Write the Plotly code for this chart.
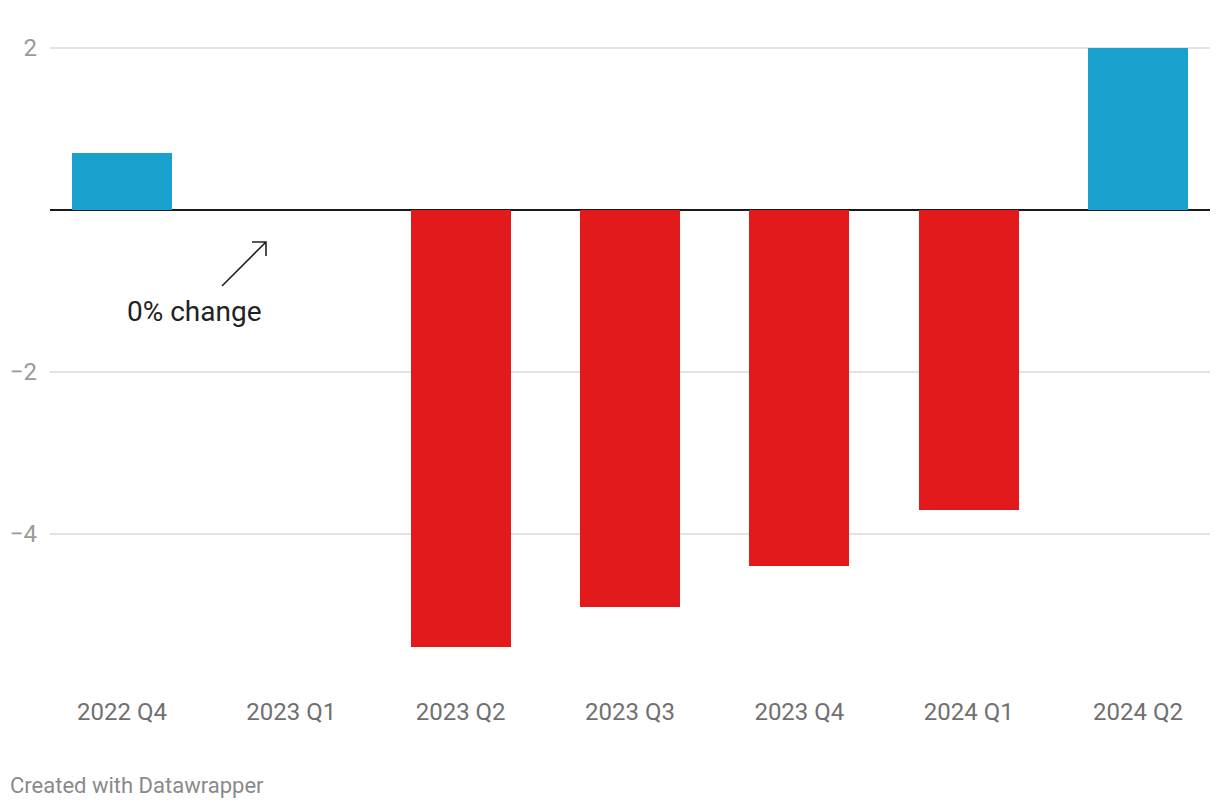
import plotly.graph_objects as go

categories = ["2022 Q4", "2023 Q1", "2023 Q2", "2023 Q3", "2023 Q4", "2024 Q1", "2024 Q2"]
values = [0.7, 0.0, -5.4, -4.9, -4.4, -3.7, 2.0]
ytick_vals = [2, -2, -4]
ytick_text = ["2", "\u22122", "\u22124"]

BLUE = "#18a1cd"
RED = "#e31a1c"
colors = [BLUE if v >= 0 else RED for v in values]

PLOT_TOP = 28
PLOT_BOT = 695
PLOT_L = 50
PLOT_R = 1210

fig = go.Figure()
fig.add_trace(go.Bar(
    x=list(range(len(categories))), y=values,
    marker=dict(color=colors, line=dict(width=0)),
    width=0.59, hoverinfo="skip",
))

# px -> data helpers for annotation placement
def px_x(p):
    return (p - 122) / 169.33

def px_y(p):
    return (210 - p) / 81.0

hx, hy = 266, 242
tx, ty = 222, 286
path = (f"M {px_x(tx)} {px_y(ty)} L {px_x(hx)} {px_y(hy)} "
        f"M {px_x(hx-14)} {px_y(hy)} L {px_x(hx)} {px_y(hy)} L {px_x(hx)} {px_y(hy+14)}")
fig.add_shape(type="path", path=path, xref="x", yref="y",
              line=dict(color="#222222", width=1.6))

fig.add_annotation(x=px_x(195), y=px_y(311), xref="x", yref="y",
                   text="0% change", showarrow=False,
                   font=dict(family="Roboto", size=28, color="#222222"))

fig.update_layout(
    width=1220, height=808,
    margin=dict(l=PLOT_L, r=1220 - PLOT_R, t=PLOT_TOP, b=808 - PLOT_BOT),
    plot_bgcolor="white", paper_bgcolor="white",
    showlegend=False,
    font=dict(family="Roboto"),
    bargap=0,
)
fig.update_xaxes(
    range=[-0.425, 6.425],
    tickvals=list(range(len(categories))), ticktext=categories,
    showgrid=False, zeroline=False, showline=False, ticks="",
    tickfont=dict(family="Roboto", size=24, color="#707070"),
)
y_top = 2 + (48 - PLOT_TOP) / 81.0
y_bot = -(PLOT_BOT - 210) / 81.0
fig.update_yaxes(
    range=[y_bot, y_top],
    tickvals=ytick_vals, ticktext=ytick_text,
    showgrid=True, gridcolor="#e3e3e3", gridwidth=1.5,
    zeroline=True, zerolinecolor="#1a1a1a", zerolinewidth=2,
    showline=False, ticks="", ticklabelstandoff=12,
    tickfont=dict(family="Roboto", size=24, color="#9a9a9a"),
)

fig.add_annotation(
    x=(8 - PLOT_L) / (PLOT_R - PLOT_L),
    y=(PLOT_BOT - 785) / (PLOT_BOT - PLOT_TOP),
    xref="paper", yref="paper", xanchor="left", yanchor="middle",
    text="Created with Datawrapper", showarrow=False,
    font=dict(family="Roboto", size=22, color="#8a8a8a"))

fig.write_html("out.html")
